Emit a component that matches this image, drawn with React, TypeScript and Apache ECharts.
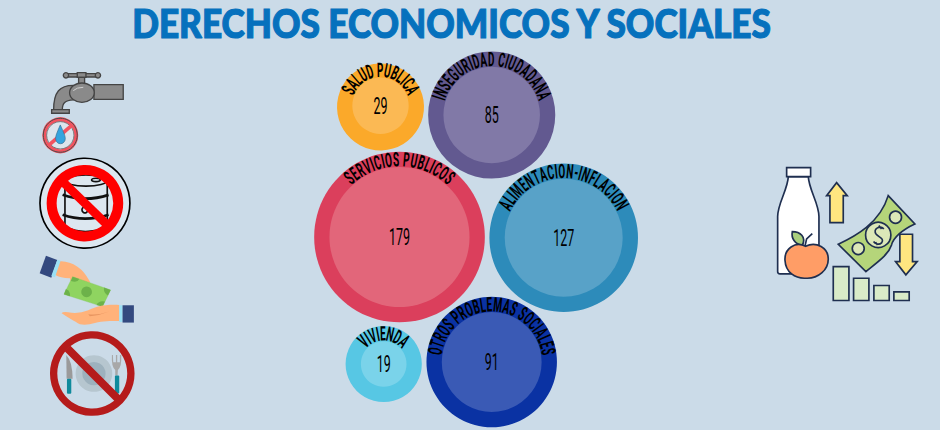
import React, { useEffect, useRef } from "react";
import * as echarts from "echarts";

const titleText = "DERECHOS ECONOMICOS Y SOCIALES";
const categories = ["SALUD PUBLICA", "INSEGURIDAD CIUDADANA", "SERVICIOS PUBLICOS", "ALIMENTACION-INFLACION", "VIVIENDA", "OTROS PROBLEMAS SOCIALES"];
const values = [29, 85, 179, 127, 19, 91];
const bubbleX = [380.5, 491.7, 399.5, 563.7, 383.7, 491.7];
const bubbleY = [105.7, 115, 237, 237.7, 364, 362];
const ringColors = ["#FBA92A", "#625990", "#DB3F5C", "#2D8BBA", "#57C7E4", "#0A32A3"];
const coreColors = ["#FBB954", "#8179A7", "#E2667A", "#58A2C8", "#7AD3EA", "#3A5AB5"];

const AREA_PER_UNIT = 27.4;
const RING = 15.3;
const BG = "#CBDBE8";
const LABEL_FONT = "Roboto";
const LABEL_SIZE = 20;
const LABEL_SQUEEZE = 0.5;
const LABEL_TRACKING = 1.17;
const VALUE_SIZE = 24;
const VALUE_SQUEEZE = 0.52;

let shapeId = 0;
function pathEl(d: string, style: any) {
  const name = "icon" + shapeId++;
  echarts.graphic.registerShape(name, echarts.graphic.extendPath(d, {}));
  return { type: name, x: 0, y: 0, style };
}
const rect = (x: number, y: number, w: number, h: number, style: any, r = 0) => ({ type: "rect", shape: { x, y, width: w, height: h, r }, style });
const circle = (cx: number, cy: number, r: number, style: any) => ({ type: "circle", shape: { cx, cy, r }, style });
const ellipse = (cx: number, cy: number, rx: number, ry: number, style: any) => ({ type: "ellipse", shape: { cx, cy, rx, ry }, style });
const line = (x1: number, y1: number, x2: number, y2: number, style: any) => ({ type: "line", shape: { x1, y1, x2, y2 }, style });
const poly = (points: number[][], style: any) => ({ type: "polygon", shape: { points }, style });
const crop = (x: number, y: number, children: any[]) => ({ type: "group", x, y, scaleX: 1 / 3, scaleY: 1 / 3, silent: true, children });

function buildIcons() {
  const ink = { stroke: "#444444", lineWidth: 4 };
  const metal = { fill: "#8A8A8A", ...ink };
  const faucet = crop(20, 60, [
    rect(135, 41, 100, 10, metal),
    circle(138, 46, 8, metal),
    circle(234, 46, 8, metal),
    rect(172, 38, 26, 14, metal),
    rect(176, 52, 18, 22, metal),
    rect(222, 74, 88, 44, metal),
    pathEl("M160,76 C120,76 101,95 101,150 L127,150 C127,128 135,122 160,120 Z", metal),
    rect(95, 149, 53, 11, metal),
    ellipse(186, 98, 37, 29, metal),
    pathEl("M160,92 Q170,82 190,82", { fill: "none", stroke: "#D0D0D0", lineWidth: 3 }),
    circle(121, 226, 48, { fill: "#DDE5EC", stroke: "#F2535F", lineWidth: 12 }),
    circle(121, 226, 51, { fill: "none", stroke: "#4A4A4A", lineWidth: 3 }),
    circle(121, 226, 41, { fill: "none", stroke: "#4A4A4A", lineWidth: 2 }),
    line(158, 194, 84, 258, { stroke: "#F2535F", lineWidth: 11 }),
    pathEl("M121,195 C110,220 107,228 107,236 A14,15 0 0 0 136,236 C136,228 132,220 121,195 Z", { fill: "#35A4DE", stroke: "#3A6E8F", lineWidth: 2 }),
  ]);

  const blackLine = { stroke: "#111111", lineWidth: 5, fill: "none" };
  const barrel = crop(20, 60, [
    circle(195, 430, 135, { fill: "#DCE7F0", stroke: "#000000", lineWidth: 5 }),
    pathEl("M135,365 L135,500 Q195,530 262,500 L262,365", blackLine),
    ellipse(198, 362, 64, 17, blackLine),
    ellipse(228, 360, 13, 5, blackLine),
    pathEl("M128,405 Q195,428 266,405", { ...blackLine, lineWidth: 8 }),
    pathEl("M128,465 Q195,488 266,465", { ...blackLine, lineWidth: 8 }),
    circle(195, 450, 9, blackLine),
    circle(195, 430, 100, { fill: "none", stroke: "#FF0000", lineWidth: 30 }),
    line(125, 362, 265, 498, { stroke: "#FF0000", lineWidth: 26 }),
  ]);

  const hands = crop(20, 245, [
    pathEl("M118,48 C150,50 185,60 211,112 L185,132 C170,135 150,115 150,100 C130,100 115,95 106,90 Z", { fill: "#FFB27A" }),
    poly([[158, 95], [272, 135], [248, 185], [132, 148]], { fill: "#8FD460", stroke: "#7CC455", lineWidth: 1 }),
    circle(200, 141, 16, { fill: "#6DB24A" }),
    pathEl("M158,95 L178,102 Q172,115 153,108 Z", { fill: "#6DB24A" }),
    pathEl("M272,135 L264,152 Q250,145 252,128 Z", { fill: "#6DB24A" }),
    pathEl("M132,148 L138,132 Q152,138 150,154 Z", { fill: "#6DB24A" }),
    pathEl("M248,185 L230,180 Q238,165 255,170 Z", { fill: "#6DB24A" }),
    poly([[78, 32], [112, 45], [94, 98], [59, 85]], { fill: "#33497F" }),
    poly([[112, 44], [122, 47], [105, 97], [94, 93]], { fill: "#9BE0F5" }),
    pathEl("M125,205 Q127,200 145,202 Q175,208 205,196 C230,185 250,178 298,180 L298,228 C270,228 250,228 225,234 Q200,242 180,238 C165,230 140,215 125,205 Z", { fill: "#FFB27A" }),
    pathEl("M205,208 Q235,212 268,200 Q240,212 210,214 Z", { fill: "#E89560" }),
    rect(298, 181, 10, 50, { fill: "#9BE0F5" }),
    rect(308, 181, 34, 52, { fill: "#33497F" }),
  ]);

  const noPlate = crop(20, 245, [
    circle(222, 386, 55, { fill: "#B6C6CF" }),
    circle(222, 386, 35, { fill: "#9DB1BD" }),
    pathEl("M139,330 Q158,350 158,402 L140,402 Z", { fill: "#9A9A9A" }),
    rect(141, 402, 13, 45, { fill: "#0F8A9C" }, 3),
    pathEl("M276,330 L279,330 L280,352 L288,352 L288,330 L292,330 L292,352 L300,352 L300,330 L304,330 Q306,365 294,375 L293,392 L286,392 L286,375 Q274,365 276,330 Z", { fill: "#A8A8A8" }),
    rect(285, 392, 13, 54, { fill: "#0F8A9C" }, 3),
    circle(217, 386, 116, { fill: "none", stroke: "#B51B1B", lineWidth: 22 }),
    line(142, 310, 296, 464, { stroke: "#B51B1B", lineWidth: 24 }),
  ]);

  const navy = { stroke: "#1F2F50", lineWidth: 5 };
  const bars = { fill: "#D9EBC8", ...navy };
  const yellow = { fill: "#FFE680", ...navy };
  const note = { fill: "#DCE8B8", ...navy };
  const groceries = crop(765, 155, [
    pathEl("M70,65 C68,105 38,145 38,185 L38,350 Q38,357 45,357 L150,357 Q162,357 162,345 L162,185 C162,145 132,105 130,65 Z", { fill: "#FFFFFF", ...navy }),
    rect(65, 38, 72, 27, { fill: "#FFFFFF", ...navy }),
    pathEl("M120,274 L125,252 L142,236", { fill: "none", ...navy }),
    pathEl("M112,272 C90,268 78,250 82,230 C105,230 125,245 112,272 Z", { fill: "#A9CF7D", ...navy }),
    pathEl("M122,274 C90,258 58,282 60,316 C62,352 90,372 123,370 C160,372 190,345 190,312 C190,280 155,258 122,274 Z", { fill: "#FF9D66", ...navy }),
    poly([[215, 83], [247, 122], [235, 122], [235, 203], [195, 203], [195, 122], [185, 122]], yellow),
    pathEl("M370,122 L450,207 C410,225 385,250 380,270 C370,300 340,320 303,350 L220,268 C270,245 345,205 370,122 Z", { fill: "#B5D57A", ...navy }),
    circle(340, 240, 38, note),
    circle(392, 187, 18, note),
    circle(280, 281, 18, note),
    pathEl("M357,222 C345,210 322,222 334,238 C342,248 360,250 350,264 C342,272 330,266 326,260 M342,212 L350,222 M332,262 L338,270", { fill: "none", ...navy }),
    poly([[405, 238], [443, 238], [443, 320], [457, 320], [423, 360], [392, 320], [405, 320]], yellow),
    rect(205, 335, 47, 102, bars),
    rect(266, 370, 46, 67, bars),
    rect(327, 392, 46, 45, bars),
    rect(387, 411, 46, 26, bars),
  ]);

  const heading = {
    type: "text",
    x: 451.5,
    y: 23,
    scaleX: 0.88,
    silent: true,
    style: {
      text: titleText,
      x: 0,
      y: 0,
      align: "center",
      verticalAlign: "middle",
      fill: "#0671BD",
      stroke: "#0671BD",
      lineWidth: 1.2,
      font: "900 40px Lato",
    },
  };

  return [heading, faucet, barrel, hands, noPlate, groceries];
}

let measureCtx: CanvasRenderingContext2D | null = null;
function advance(ch: string) {
  if (!measureCtx) measureCtx = document.createElement("canvas").getContext("2d");
  measureCtx!.font = `700 ${LABEL_SIZE}px ${LABEL_FONT}`;
  return measureCtx!.measureText(ch).width * LABEL_SQUEEZE * LABEL_TRACKING;
}

function renderBubble(params: any, api: any) {
  const i = params.dataIndex;
  const [cx, cy] = api.coord([api.value(0), api.value(1)]);
  const inner = api.size([Math.sqrt(AREA_PER_UNIT * api.value(2)), 0])[0];
  const outer = inner + RING;
  const label = categories[i];
  const midR = inner + 7.6;
  const chars = Array.from(label);
  const widths = chars.map((c) => advance(c));
  const total = widths.reduce((a, b) => a + b, 0);
  let run = -total / 2;
  const letters = chars.map((ch, k) => {
    const theta = (run + widths[k] / 2) / midR;
    run += widths[k];
    return {
      type: "text",
      x: cx + midR * Math.sin(theta),
      y: cy - midR * Math.cos(theta),
      rotation: -theta,
      scaleX: LABEL_SQUEEZE,
      style: { text: ch, x: 0, y: 0, align: "center", verticalAlign: "middle", fill: "#000000", font: `700 ${LABEL_SIZE}px ${LABEL_FONT}` },
    };
  });
  return {
    type: "group",
    children: [
      { type: "circle", shape: { cx, cy, r: outer }, style: { fill: ringColors[i] } },
      { type: "circle", shape: { cx, cy, r: inner }, style: { fill: coreColors[i] } },
      ...letters,
      {
        type: "text",
        x: cx,
        y: cy,
        scaleX: VALUE_SQUEEZE,
        style: { text: String(api.value(2)), x: 0, y: 0, align: "center", verticalAlign: "middle", fill: "#000000", font: `400 ${VALUE_SIZE}px ${LABEL_FONT}` },
      },
    ],
  };
}

export default function App() {
  const ref = useRef<HTMLDivElement>(null);
  useEffect(() => {
    const chart = echarts.init(ref.current!, undefined, { renderer: "svg" });
    chart.setOption({
      animation: false,
      backgroundColor: BG,
      grid: { left: 0, right: 0, top: 0, bottom: 0 },
      xAxis: { type: "value", min: 0, max: 940, show: false },
      yAxis: { type: "value", min: 0, max: 430, inverse: true, show: false },
      graphic: { elements: buildIcons() },
      series: [
        {
          type: "custom",
          coordinateSystem: "cartesian2d",
          clip: false,
          silent: true,
          renderItem: renderBubble,
          data: values.map((v, i) => [bubbleX[i], bubbleY[i], v]),
        },
      ],
    });
    return () => chart.dispose();
  }, []);
  return <div ref={ref} style={{ position: "fixed", left: 0, top: 0, width: 940, height: 430 }} />;
}
